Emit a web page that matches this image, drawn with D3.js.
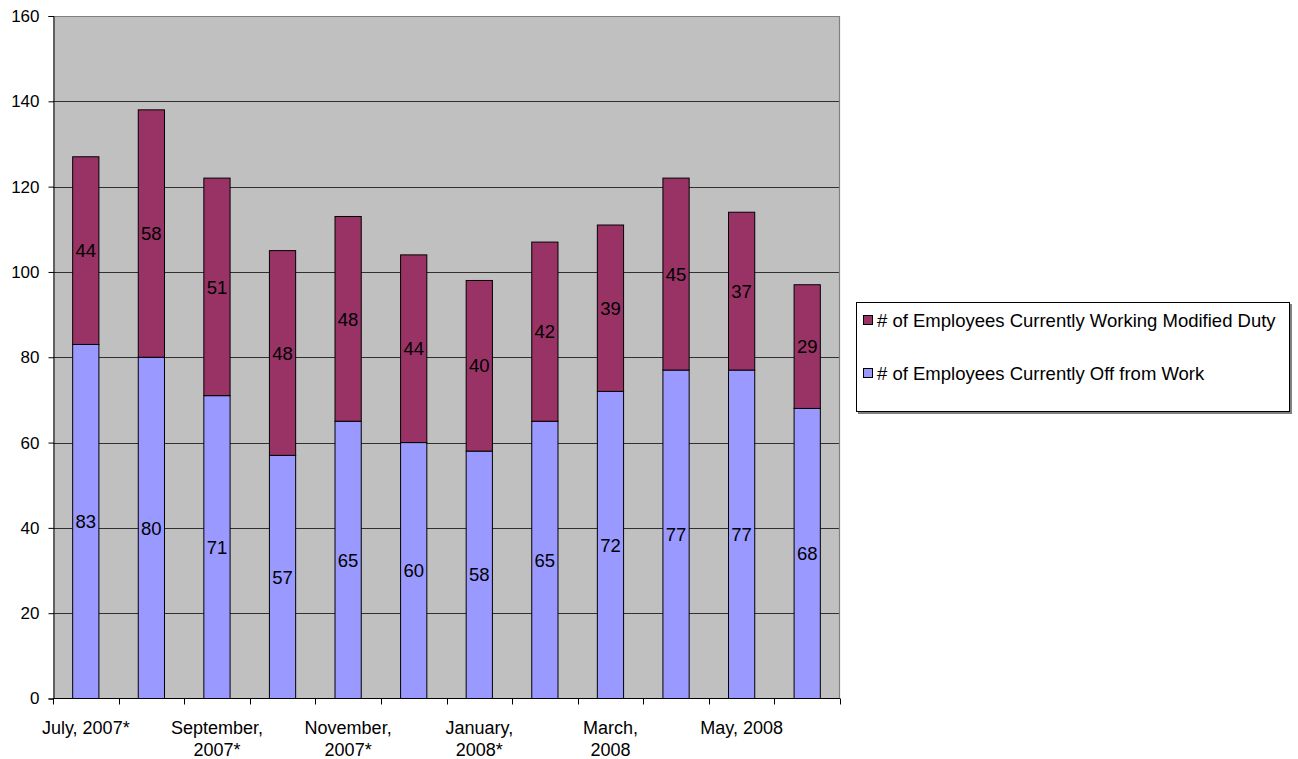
<!DOCTYPE html>
<html>
<head>
<meta charset="utf-8">
<script src="https://cdn.jsdelivr.net/npm/d3@7"></script>
<style>
  html, body { margin: 0; padding: 0; background: #ffffff; }
  svg { display: block; font-family: Arial, "Liberation Sans", sans-serif; }
</style>
</head>
<body>
<svg id="chart" width="1298" height="759"></svg>
<script>
// Monthly counts, July 2007 through June 2008
const months = ["Jul 2007", "Aug 2007", "Sep 2007", "Oct 2007", "Nov 2007", "Dec 2007",
                "Jan 2008", "Feb 2008", "Mar 2008", "Apr 2008", "May 2008", "Jun 2008"];
const offWork = [83, 80, 71, 57, 65, 60, 58, 65, 72, 77, 77, 68];
const modifiedDuty = [44, 58, 51, 48, 48, 44, 40, 42, 39, 45, 37, 29];
// Axis labels shown under every other month (lines separated by "|")
const monthLabels = ["July, 2007*", "", "September,|2007*", "", "November,|2007*", "",
                     "January,|2008*", "", "March,|2008", "", "May, 2008", ""];
const yTicks = [0, 20, 40, 60, 80, 100, 120, 140, 160];
const seriesNames = ["# of Employees Currently Working Modified Duty",
                     "# of Employees Currently Off from Work"];

const colors = { off: "#9999FF", mod: "#993366" };
const svg = d3.select("#chart");
const m = { left: 53, right: 840, top: 16, bottom: 698.5 };

const x = d3.scaleBand().domain(months).range([m.left, m.right]).paddingInner(0.6).paddingOuter(0.3);
const xCat = d3.scaleBand().domain(months).range([m.left, m.right]);
const y = d3.scaleLinear().domain([0, 160]).range([m.bottom, m.top]);

// plot background
svg.append("rect")
  .attr("x", m.left).attr("y", m.top)
  .attr("width", m.right - m.left).attr("height", m.bottom - m.top)
  .attr("fill", "#C0C0C0");

// horizontal gridlines
svg.append("g").selectAll("line").data(yTicks.filter(d => d > 0 && d < 160)).join("line")
  .attr("x1", m.left).attr("x2", m.right)
  .attr("y1", d => Math.round(y(d)) + 0.5).attr("y2", d => Math.round(y(d)) + 0.5)
  .attr("stroke", "#000").attr("stroke-width", 1).attr("stroke-opacity", 0.75);

// gray frame on top and right
svg.append("path")
  .attr("d", `M${m.left},${m.top + 0.5}H${m.right - 0.5}V${m.bottom}`)
  .attr("fill", "none").attr("stroke", "#808080").attr("stroke-width", 1.2);

const stacks = months.map((mo, i) => ({ mo, off: offWork[i], mod: modifiedDuty[i] }));

// off-work segments (bottom)
svg.append("g").selectAll("rect").data(stacks).join("rect")
  .attr("x", d => x(d.mo)).attr("width", x.bandwidth())
  .attr("y", d => y(d.off)).attr("height", d => y(0) - y(d.off))
  .attr("fill", colors.off).attr("stroke", "#000").attr("stroke-width", 1);

// modified-duty segments (top)
svg.append("g").selectAll("rect").data(stacks).join("rect")
  .attr("x", d => x(d.mo)).attr("width", x.bandwidth())
  .attr("y", d => y(d.off + d.mod)).attr("height", d => y(d.off) - y(d.off + d.mod))
  .attr("fill", colors.mod).attr("stroke", "#000").attr("stroke-width", 1);

// value labels at segment centres
const lab = svg.append("g").attr("font-size", 18.5).attr("fill", "#000").attr("text-anchor", "middle");
lab.selectAll("text.off").data(stacks).join("text").attr("class", "off")
  .attr("x", d => x(d.mo) + x.bandwidth() / 2)
  .attr("y", d => y(d.off / 2)).attr("dy", "0.36em").text(d => d.off);
lab.selectAll("text.mod").data(stacks).join("text").attr("class", "mod")
  .attr("x", d => x(d.mo) + x.bandwidth() / 2)
  .attr("y", d => y(d.off + d.mod / 2)).attr("dy", "0.36em").text(d => d.mod);

// y axis
const yAxis = svg.append("g").attr("transform", `translate(${m.left + 0.5},0)`)
  .call(d3.axisLeft(y).tickValues(yTicks).tickSize(5).tickPadding(9).tickFormat(d3.format("d")));
yAxis.select(".domain").attr("stroke", "#000");
yAxis.selectAll(".tick line").attr("stroke", "#000");
yAxis.selectAll("text").attr("font-size", 17).attr("fill", "#000").attr("font-family", "Arial, 'Liberation Sans', sans-serif");

// x axis: ticks between categories
const xAxis = svg.append("g");
xAxis.append("line").attr("x1", m.left).attr("x2", m.right)
  .attr("y1", m.bottom).attr("y2", m.bottom).attr("stroke", "#000");
const boundaries = months.map(mo => xCat(mo)).concat([m.right]);
xAxis.selectAll("line.tk").data(boundaries).join("line").attr("class", "tk")
  .attr("x1", d => Math.round(d) + 0.5).attr("x2", d => Math.round(d) + 0.5)
  .attr("y1", m.bottom).attr("y2", m.bottom + 6).attr("stroke", "#000");

const xl = xAxis.selectAll("text").data(months.map((mo, i) => ({ mo, lbl: monthLabels[i] })).filter(d => d.lbl))
  .join("text")
  .attr("x", d => xCat(d.mo) + xCat.bandwidth() / 2)
  .attr("y", 734)
  .attr("text-anchor", "middle").attr("font-size", 18).attr("fill", "#000");
xl.each(function (d) {
  const parts = d.lbl.split("|");
  const t = d3.select(this);
  const cx = xCat(d.mo) + xCat.bandwidth() / 2;
  parts.forEach((p, k) => t.append("tspan").attr("x", cx).attr("dy", k === 0 ? 0 : 22).text(p));
});

// legend
const lg = svg.append("g");
lg.append("rect").attr("x", 858).attr("y", 304).attr("width", 434).attr("height", 110).attr("fill", "#808080");
lg.append("rect").attr("x", 856.5).attr("y", 302.5).attr("width", 433).attr("height", 109)
  .attr("fill", "#fff").attr("stroke", "#000").attr("stroke-width", 1);
const legendItems = [
  { name: seriesNames[0], color: colors.mod, cy: 320 },
  { name: seriesNames[1], color: colors.off, cy: 373 }
];
lg.selectAll("rect.sw").data(legendItems).join("rect").attr("class", "sw")
  .attr("x", 863.5).attr("y", d => d.cy - 4.5).attr("width", 9).attr("height", 9)
  .attr("fill", d => d.color).attr("stroke", "#000").attr("stroke-width", 1);
lg.selectAll("text").data(legendItems).join("text")
  .attr("x", 877).attr("y", d => d.cy).attr("dy", "0.36em")
  .attr("font-size", 18.5).attr("fill", "#000").text(d => d.name);
</script>
</body>
</html>
